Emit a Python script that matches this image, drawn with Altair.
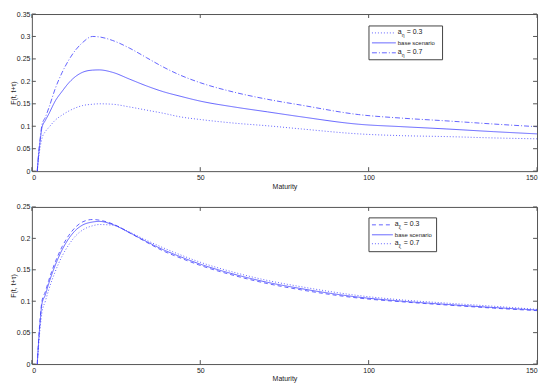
import altair as alt
import pandas as pd

# ---------------- data ----------------
maturity = [1.6, 2, 2.5, 3, 4, 5, 7, 9, 11, 13, 15, 18, 20, 24, 29, 34, 39, 44,
            50, 60, 70, 80, 97, 110, 123, 137, 150]

# top panel
top_low = [0, 0.03, 0.055, 0.073, 0.088, 0.097, 0.114, 0.125, 0.134, 0.141, 0.146,
           0.149, 0.150, 0.149, 0.143, 0.136, 0.129, 0.121, 0.115, 0.107, 0.101,
           0.094, 0.083, 0.079, 0.077, 0.074, 0.072]
top_base = [0, 0.035, 0.07, 0.097, 0.113, 0.127, 0.157, 0.178, 0.197, 0.211, 0.220,
            0.225, 0.2255, 0.220, 0.205, 0.190, 0.177, 0.167, 0.156, 0.143, 0.132,
            0.121, 0.1045, 0.099, 0.094, 0.088, 0.083]
top_high = [0, 0.04, 0.075, 0.103, 0.120, 0.140, 0.185, 0.220, 0.248, 0.270, 0.286,
            0.300, 0.299, 0.291, 0.274, 0.253, 0.232, 0.214, 0.197, 0.176, 0.160,
            0.147, 0.126, 0.118, 0.112, 0.105, 0.099]

# bottom panel
bot_low = [0, 0.038, 0.075, 0.100, 0.115, 0.133, 0.163, 0.187, 0.205, 0.218, 0.226,
           0.230, 0.229, 0.223, 0.209, 0.194, 0.180, 0.169, 0.157, 0.141, 0.128,
           0.118, 0.105, 0.099, 0.094, 0.089, 0.085]
bot_base = [0, 0.035, 0.07, 0.096, 0.110, 0.128, 0.158, 0.182, 0.200, 0.213, 0.221,
            0.226, 0.227, 0.222, 0.209, 0.195, 0.182, 0.171, 0.159, 0.143, 0.130,
            0.120, 0.1065, 0.100, 0.095, 0.090, 0.086]
bot_high = [0, 0.03, 0.06, 0.082, 0.100, 0.118, 0.148, 0.172, 0.190, 0.204, 0.213,
            0.220, 0.222, 0.221, 0.210, 0.197, 0.185, 0.174, 0.162, 0.146, 0.133,
            0.123, 0.109, 0.102, 0.097, 0.092, 0.087]

x_ticks = [0, 50, 100, 150]
top_y_ticks = [0, 0.05, 0.1, 0.15, 0.2, 0.25, 0.3, 0.35]
bot_y_ticks = [0, 0.05, 0.1, 0.15, 0.2, 0.25]

top_series = ["a_eta 0.3", "top base", "a_eta 0.7"]
bot_series = ["a_xi 0.3", "bottom base", "a_xi 0.7"]

# ---------------- style ----------------
W, H = 508, 158
BLUE = "#3c3cff"
FONT = "Liberation Sans"
DOT = [1, 2]
DASHDOT = [5, 2, 1, 2]
DASH = [4, 3]
SOLID = [1, 0]
TICK = 4
LW = 0.8


def panel(low, base, high, names, y_ticks, ymax, dashes, sub, box):
    df = pd.DataFrame({
        "m": maturity * 3,
        "v": low + base + high,
        "s": [names[0]] * len(low) + [names[1]] * len(base) + [names[2]] * len(high),
    })
    xs = alt.Scale(domain=[0, 150], nice=False)
    ys = alt.Scale(domain=[0, ymax], nice=False)
    xax = alt.Axis(values=x_ticks, title="Maturity", labelOverlap=False,
                   labelPadding=2, titlePadding=2)
    yax = alt.Axis(values=y_ticks, title="F(t, t+τ)", format="~g", labelOverlap=False,
                   labelPadding=2, titlePadding=0)

    lines = alt.Chart(df).mark_line(color=BLUE, strokeWidth=LW, interpolate="monotone").encode(
        x=alt.X("m:Q", scale=xs, axis=xax),
        y=alt.Y("v:Q", scale=ys, axis=yax),
        strokeDash=alt.StrokeDash("s:N", scale=alt.Scale(domain=names, range=dashes),
                                  legend=None),
        detail="s:N",
    )

    xt = pd.DataFrame({"t": x_ticks})
    yt = pd.DataFrame({"t": y_ticks})
    tick_style = dict(color="#555", strokeWidth=1)
    xtop = alt.Chart(xt).mark_rule(**tick_style).encode(
        x=alt.X("t:Q", scale=xs, axis=xax), y=alt.value(0), y2=alt.value(TICK))
    xbot = alt.Chart(xt).mark_rule(**tick_style).encode(
        x=alt.X("t:Q", scale=xs, axis=xax), y=alt.value(H - TICK), y2=alt.value(H))
    yleft = alt.Chart(yt).mark_rule(**tick_style).encode(
        y=alt.Y("t:Q", scale=ys, axis=yax), x=alt.value(0), x2=alt.value(TICK))
    yright = alt.Chart(yt).mark_rule(**tick_style).encode(
        y=alt.Y("t:Q", scale=ys, axis=yax), x=alt.value(W - TICK), x2=alt.value(W))

    # legend
    bx0, bx1, by0, by1, rows, lx0, lx1, tx = box
    one = pd.DataFrame({"a": [0]})
    leg = [alt.Chart(one).mark_rect(fill="white", stroke="#444", strokeWidth=1).encode(
        x=alt.value(bx0), x2=alt.value(bx1), y=alt.value(by0), y2=alt.value(by1))]
    for i, (ry, dsh) in enumerate(zip(rows, dashes)):
        leg.append(alt.Chart(one).mark_rule(color=BLUE, strokeWidth=LW, strokeDash=dsh).encode(
            x=alt.value(lx0), x2=alt.value(lx1), y=alt.value(ry)))
        if i == 1:
            leg.append(alt.Chart(one).mark_text(
                text="base scenario", font=FONT, fontSize=6, align="left", baseline="middle", color="#222").encode(
                x=alt.value(tx), y=alt.value(ry)))
        else:
            val = "= 0.3" if i == 0 else "= 0.7"
            leg.append(alt.Chart(one).mark_text(
                text="a", font=FONT, fontSize=7, align="left", baseline="middle", color="#222").encode(
                x=alt.value(tx), y=alt.value(ry - 1)))
            leg.append(alt.Chart(one).mark_text(
                text=sub, font=FONT, fontSize=5, align="left", baseline="middle", color="#222").encode(
                x=alt.value(tx + 4), y=alt.value(ry + 2)))
            leg.append(alt.Chart(one).mark_text(
                text=val, font=FONT, fontSize=7, align="left", baseline="middle", color="#222").encode(
                x=alt.value(tx + 9), y=alt.value(ry - 1)))

    return alt.layer(lines, xtop, xbot, yleft, yright, *leg).properties(width=W, height=H)


top = panel(top_low, top_base, top_high, top_series, top_y_ticks, 0.35, [DOT, SOLID, DASHDOT], "η",
            (339, 413, 12, 46, [19, 29, 39], 342, 366, 368))
bottom = panel(bot_low, bot_base, bot_high, bot_series, bot_y_ticks, 0.25, [DASH, SOLID, DOT], "ξ",
               (339, 407, 11, 45, [18, 28, 37], 342, 363, 365))

chart = alt.vconcat(top, bottom, spacing=36, bounds="flush").resolve_scale(
    strokeDash="independent"
).properties(
    padding={"left": 0, "top": 0, "right": 2, "bottom": 0}
).configure_view(
    stroke="#555", strokeWidth=1
).configure_axis(
    domain=False, ticks=False, grid=False, labelOverlap=False,
    labelFont=FONT, labelFontSize=7, labelColor="#222",
    titleFont=FONT, titleFontSize=7, titleFontWeight="normal", titleColor="#222",
)

chart.save("out.html", embed_options={"renderer": "svg", "actions": False})
